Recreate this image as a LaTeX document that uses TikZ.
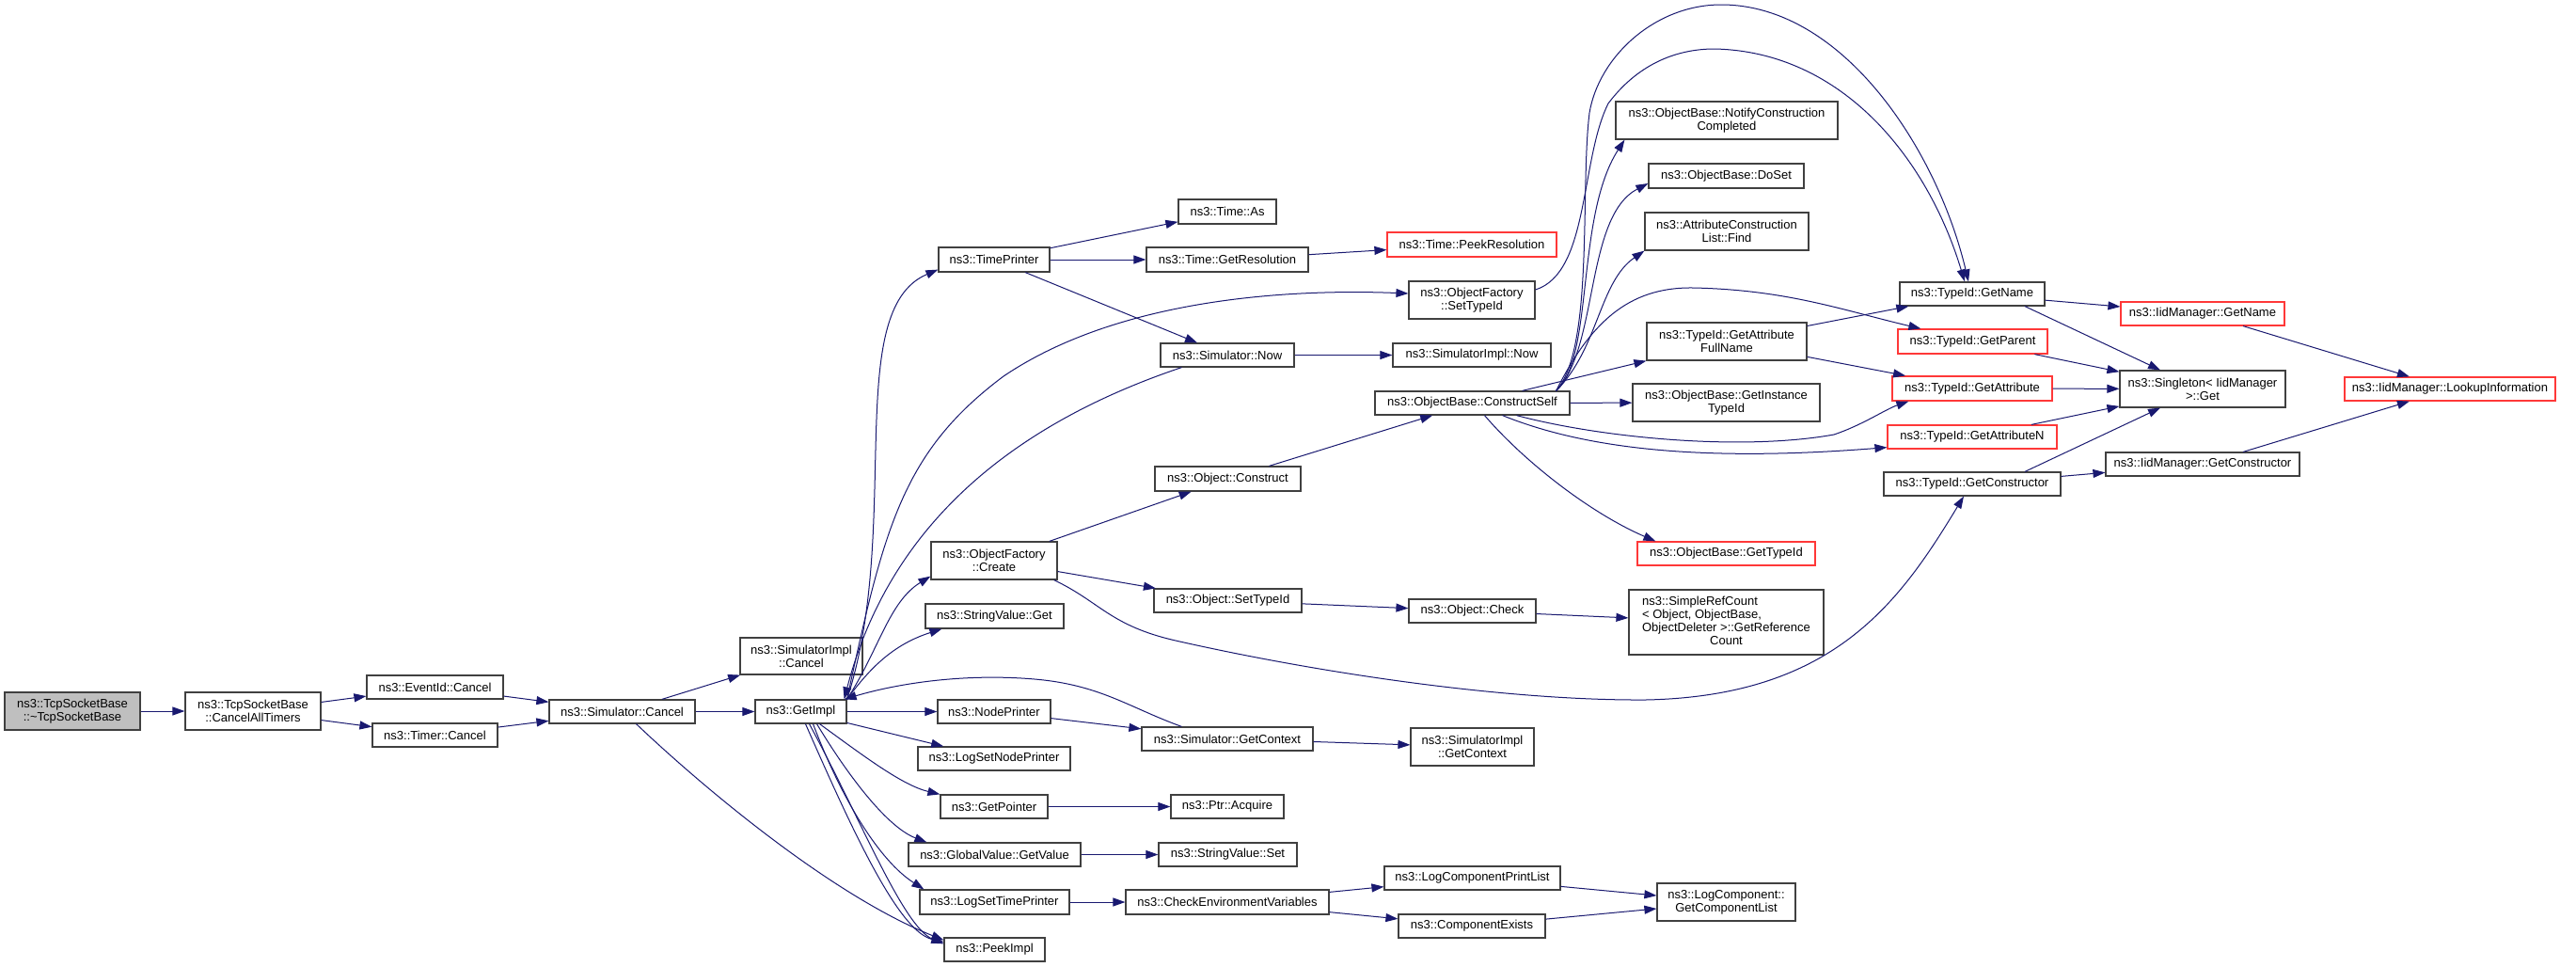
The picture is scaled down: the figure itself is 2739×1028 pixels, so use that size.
\documentclass[tikz,border=0pt]{standalone}
\usepackage{fontspec}
\setmainfont{Liberation Sans}
\usetikzlibrary{arrows.meta}
\definecolor{edgeblue}{HTML}{191970}
\definecolor{boxgray}{HTML}{404040}
\definecolor{boxred}{HTML}{FF3838}
\definecolor{rootgray}{HTML}{BFBFBF}
\tikzstyle{fn}=[draw=boxgray, line width=1.2pt, fill=white, inner sep=0pt, align=center, font=\fontsize{13}{14}\selectfont]
\tikzstyle{fnred}=[fn, draw=boxred]
\tikzstyle{fnroot}=[fn, fill=rootgray]
\tikzstyle{call}=[draw=edgeblue, line width=1pt, -{Triangle[length=13pt,width=9pt]}]
\newcommand{\fnbox}[7]{
\pgfmathsetmacro{\bx}{(#3+#5)/2}
\pgfmathsetmacro{\by}{(#4+#6)/2}
\pgfmathsetmacro{\bw}{#5-#3}
\pgfmathsetmacro{\bh}{#6-#4}
\node[#2, minimum width=\bw pt, minimum height=\bh pt] (#1) at (\bx,\by) {#7};
}

\begin{document}
\begin{tikzpicture}[x=1pt,y=-1pt]
\path[use as bounding box, fill=white] (0,0) rectangle (2739,1028);
% column 1-3
\fnbox{root}{fnroot}{5}{736}{149}{776}{ns3::TcpSocketBase\\::\textasciitilde TcpSocketBase}
\fnbox{cancelall}{fn}{197}{736}{341}{776}{ns3::TcpSocketBase\\::CancelAllTimers}
\fnbox{eventcancel}{fn}{390}{718}{535}{743}{ns3::EventId::Cancel}
\fnbox{timercancel}{fn}{396}{769}{529}{794}{ns3::Timer::Cancel}
\fnbox{simcancel}{fn}{584}{744}{739}{769}{ns3::Simulator::Cancel}
\fnbox{simimplcancel}{fn}{787}{678}{917}{717}{ns3::SimulatorImpl\\::Cancel}
\fnbox{getimpl}{fn}{803}{744}{900}{769}{ns3::GetImpl}
% column 4
\fnbox{timeprinter}{fn}{998}{263}{1116}{289}{ns3::TimePrinter}
\fnbox{create}{fn}{990}{576}{1124}{616}{ns3::ObjectFactory\\::Create}
\fnbox{stringget}{fn}{984}{642}{1131}{668}{ns3::StringValue::Get}
\fnbox{nodeprinter}{fn}{997}{744}{1117}{769}{ns3::NodePrinter}
\fnbox{logsetnode}{fn}{976}{794}{1138}{819}{ns3::LogSetNodePrinter}
\fnbox{getpointer}{fn}{1000}{845}{1114}{870}{ns3::GetPointer}
\fnbox{globalvalue}{fn}{966}{896}{1149}{921}{ns3::GlobalValue::GetValue}
\fnbox{logsettime}{fn}{978}{946}{1137}{972}{ns3::LogSetTimePrinter}
\fnbox{peekimpl}{fn}{1004}{997}{1111}{1022}{ns3::PeekImpl}
% column 5
\fnbox{timeas}{fn}{1253}{212}{1357}{238}{ns3::Time::As}
\fnbox{getres}{fn}{1219}{263}{1391}{289}{ns3::Time::GetResolution}
\fnbox{simnow}{fn}{1234}{365}{1376}{390}{ns3::Simulator::Now}
\fnbox{construct}{fn}{1228}{496}{1383}{522}{ns3::Object::Construct}
\fnbox{objsettypeid}{fn}{1227}{626}{1384}{651}{ns3::Object::SetTypeId}
\fnbox{getcontext}{fn}{1214}{773}{1396}{798}{ns3::Simulator::GetContext}
\fnbox{acquire}{fn}{1245}{845}{1365}{870}{ns3::Ptr::Acquire}
\fnbox{stringset}{fn}{1232}{896}{1379}{921}{ns3::StringValue::Set}
\fnbox{checkenv}{fn}{1197}{946}{1413}{972}{ns3::CheckEnvironmentVariables}
% column 6
\fnbox{peekres}{fnred}{1475}{247}{1655}{273}{ns3::Time::PeekResolution}
\fnbox{settypeid}{fn}{1498}{299}{1632}{339}{ns3::ObjectFactory\\::SetTypeId}
\fnbox{simimplnow}{fn}{1481}{365}{1649}{390}{ns3::SimulatorImpl::Now}
\fnbox{constructself}{fn}{1462}{416}{1669}{441}{ns3::ObjectBase::ConstructSelf}
\fnbox{objcheck}{fn}{1498}{637}{1633}{662}{ns3::Object::Check}
\fnbox{simimplcontext}{fn}{1500}{774}{1631}{814}{ns3::SimulatorImpl\\::GetContext}
\fnbox{printlist}{fn}{1472}{921}{1659}{946}{ns3::LogComponentPrintList}
\fnbox{compexists}{fn}{1487}{972}{1643}{997}{ns3::ComponentExists}
% column 7
\fnbox{notify}{fn}{1718}{108}{1954}{148}{ns3::ObjectBase::NotifyConstruction\\Completed}
\fnbox{doset}{fn}{1753}{174}{1918}{200}{ns3::ObjectBase::DoSet}
\fnbox{find}{fn}{1749}{226}{1923}{266}{ns3::AttributeConstruction\\List::Find}
\fnbox{getattrfull}{fn}{1751}{343}{1921}{383}{ns3::TypeId::GetAttribute\\FullName}
\fnbox{getinstance}{fn}{1736}{408}{1935}{448}{ns3::ObjectBase::GetInstance\\TypeId}
\fnbox{gettypeid}{fnred}{1741}{576}{1930}{601}{ns3::ObjectBase::GetTypeId}
\fnbox{refcount}{fn}{1732}{627}{1939}{696}{\begin{tabular}{@{}l@{}}ns3::SimpleRefCount\\< Object, ObjectBase,\\\multicolumn{1}{@{}c@{}}{ObjectDeleter >::GetReference}\\\multicolumn{1}{@{}c@{}}{Count}\end{tabular}}
\fnbox{complist}{fn}{1762}{939}{1909}{979}{ns3::LogComponent::\\GetComponentList}
% column 8-10
\fnbox{getname}{fn}{2020}{300}{2174}{325}{ns3::TypeId::GetName}
\fnbox{getparent}{fnred}{2018}{350}{2177}{376}{ns3::TypeId::GetParent}
\fnbox{getattribute}{fnred}{2012}{400}{2182}{426}{ns3::TypeId::GetAttribute}
\fnbox{getattributen}{fnred}{2007}{452}{2187}{477}{ns3::TypeId::GetAttributeN}
\fnbox{getconstructor}{fn}{2003}{502}{2191}{527}{ns3::TypeId::GetConstructor}
\fnbox{iidgetname}{fnred}{2255}{321}{2429}{346}{ns3::IidManager::GetName}
\fnbox{singleton}{fn}{2254}{394}{2430}{433}{ns3::Singleton< IidManager\\>::Get}
\fnbox{iidconstructor}{fn}{2239}{481}{2445}{506}{ns3::IidManager::GetConstructor}
\fnbox{lookup}{fnred}{2493}{401}{2717}{426}{ns3::IidManager::LookupInformation}

% straight calls
\foreach \a/\b in {root/cancelall, cancelall/eventcancel, cancelall/timercancel,
    eventcancel/simcancel, timercancel/simcancel, simcancel/simimplcancel,
    simcancel/getimpl, getimpl/nodeprinter, getimpl/logsetnode,
    timeprinter/timeas, timeprinter/getres, timeprinter/simnow, getres/peekres,
    simnow/simimplnow, create/construct, create/objsettypeid,
    construct/constructself, objsettypeid/objcheck, objcheck/refcount,
    nodeprinter/getcontext, getcontext/simimplcontext, getpointer/acquire,
    globalvalue/stringset, logsettime/checkenv, checkenv/printlist,
    checkenv/compexists, printlist/complist, compexists/complist,
    constructself/getinstance, getattrfull/getname, getattrfull/getattribute,
    getname/iidgetname, getparent/singleton, getattribute/singleton,
    getattributen/singleton, getconstructor/iidconstructor,
    iidgetname/lookup, iidconstructor/lookup} {
  \draw[call] (\a) -- (\b);
}
\draw[call] ([xshift=53pt]constructself.north) -- (getattrfull.south west);
\draw[call] ([xshift=56pt]getname.south) -- ([xshift=-45pt]singleton.north);
\draw[call] ([xshift=56pt]getconstructor.north) -- ([xshift=-45pt]singleton.south);

% curved calls
\draw[call] ([xshift=15pt]simcancel.south) .. controls (740,830) and (880,950) .. ([yshift=-3pt]peekimpl.north west);
\draw[call] ([xshift=5pt]getimpl.south) .. controls (905,880) and (955,990) .. ([yshift=-5pt]peekimpl.north west);
\draw[call] ([xshift=9pt]getimpl.south) .. controls (915,870) and (960,985) .. ([yshift=-7pt]peekimpl.north west);
\draw[call] ([xshift=13pt]getimpl.south) .. controls (895,850) and (935,915) .. ([xshift=5pt]logsettime.north west);
\draw[call] ([xshift=17pt]getimpl.south) .. controls (905,830) and (945,880) .. ([xshift=20pt]globalvalue.north west);
\draw[call] ([xshift=20pt]getimpl.south) .. controls (920,805) and (960,835) .. (getpointer.north west);
\draw[call] (getimpl.north east) .. controls (925,710) and (950,685) .. ([xshift=18pt]stringget.south west);
\draw[call] (getimpl.north east) .. controls (935,690) and (945,640) .. ([yshift=4pt]create.south west);
\draw[call] (getimpl.north east) .. controls (960,560) and (895,330) .. ([yshift=3pt]timeprinter.south west);
\draw[call] (getimpl.north east) .. controls (940,560) and (960,480) .. (1067,400)
    .. controls (1200,310) and (1400,308) .. ([yshift=7pt]settypeid.west);
\draw[call] ([xshift=23pt]simnow.south west) .. controls (1050,460) and (940,580) .. ([xshift=-3pt]getimpl.north east);
\draw[call] ([xshift=43pt]getcontext.north west) .. controls (1200,752) and (1170,728) .. (1100,722)
    .. controls (1030,716) and (960,725) .. ([xshift=-3pt]getimpl.north east);
\draw[call] ([xshift=-4pt]create.south east) .. controls (1170,640) and (1180,665) .. (1250,681)
    .. controls (1400,715) and (1600,745) .. (1750,744)
    .. controls (1950,740) and (2020,640) .. ([xshift=-9pt]getconstructor.south);
\draw[call] ([yshift=11pt]settypeid.east) .. controls (1690,290) and (1680,170) .. (1710,110)
    .. controls (1740,70) and (1780,52) .. (1823,52)
    .. controls (1960,55) and (2050,170) .. ([xshift=-8pt]getname.north);
% fan out of ConstructSelf
\draw[call] ([xshift=-15pt]constructself.north east) .. controls (1695,370) and (1680,200) .. (1690,120)
    .. controls (1700,60) and (1760,5) .. (1830,5)
    .. controls (1960,5) and (2060,160) .. ([xshift=-4pt]getname.north);
\draw[call] ([xshift=-15pt]constructself.north east) .. controls (1695,380) and (1675,230) .. ([xshift=10pt]notify.south west);
\draw[call] ([xshift=-15pt]constructself.north east) .. controls (1700,370) and (1685,230) .. ([yshift=-8pt]doset.west);
\draw[call] ([xshift=-15pt]constructself.north east) .. controls (1700,370) and (1700,300) .. (find.south west);
\draw[call] ([xshift=-15pt]constructself.north east) .. controls (1690,345) and (1730,305) .. (1800,306)
    .. controls (1900,308) and (1960,330) .. ([xshift=25pt]getparent.north west);
\draw[call] ([xshift=13pt]constructself.south) .. controls (1620,490) and (1690,545) .. ([xshift=20pt]gettypeid.north west);
\draw[call] ([xshift=47pt]constructself.south) .. controls (1700,465) and (1850,480) .. (1950,462)
    .. controls (1980,452) and (2005,435) .. ([xshift=18pt]getattribute.south west);
\draw[call] ([xshift=32pt]constructself.south) .. controls (1680,475) and (1800,492) .. ([yshift=2pt]getattributen.south west);
\end{tikzpicture}
\end{document}
